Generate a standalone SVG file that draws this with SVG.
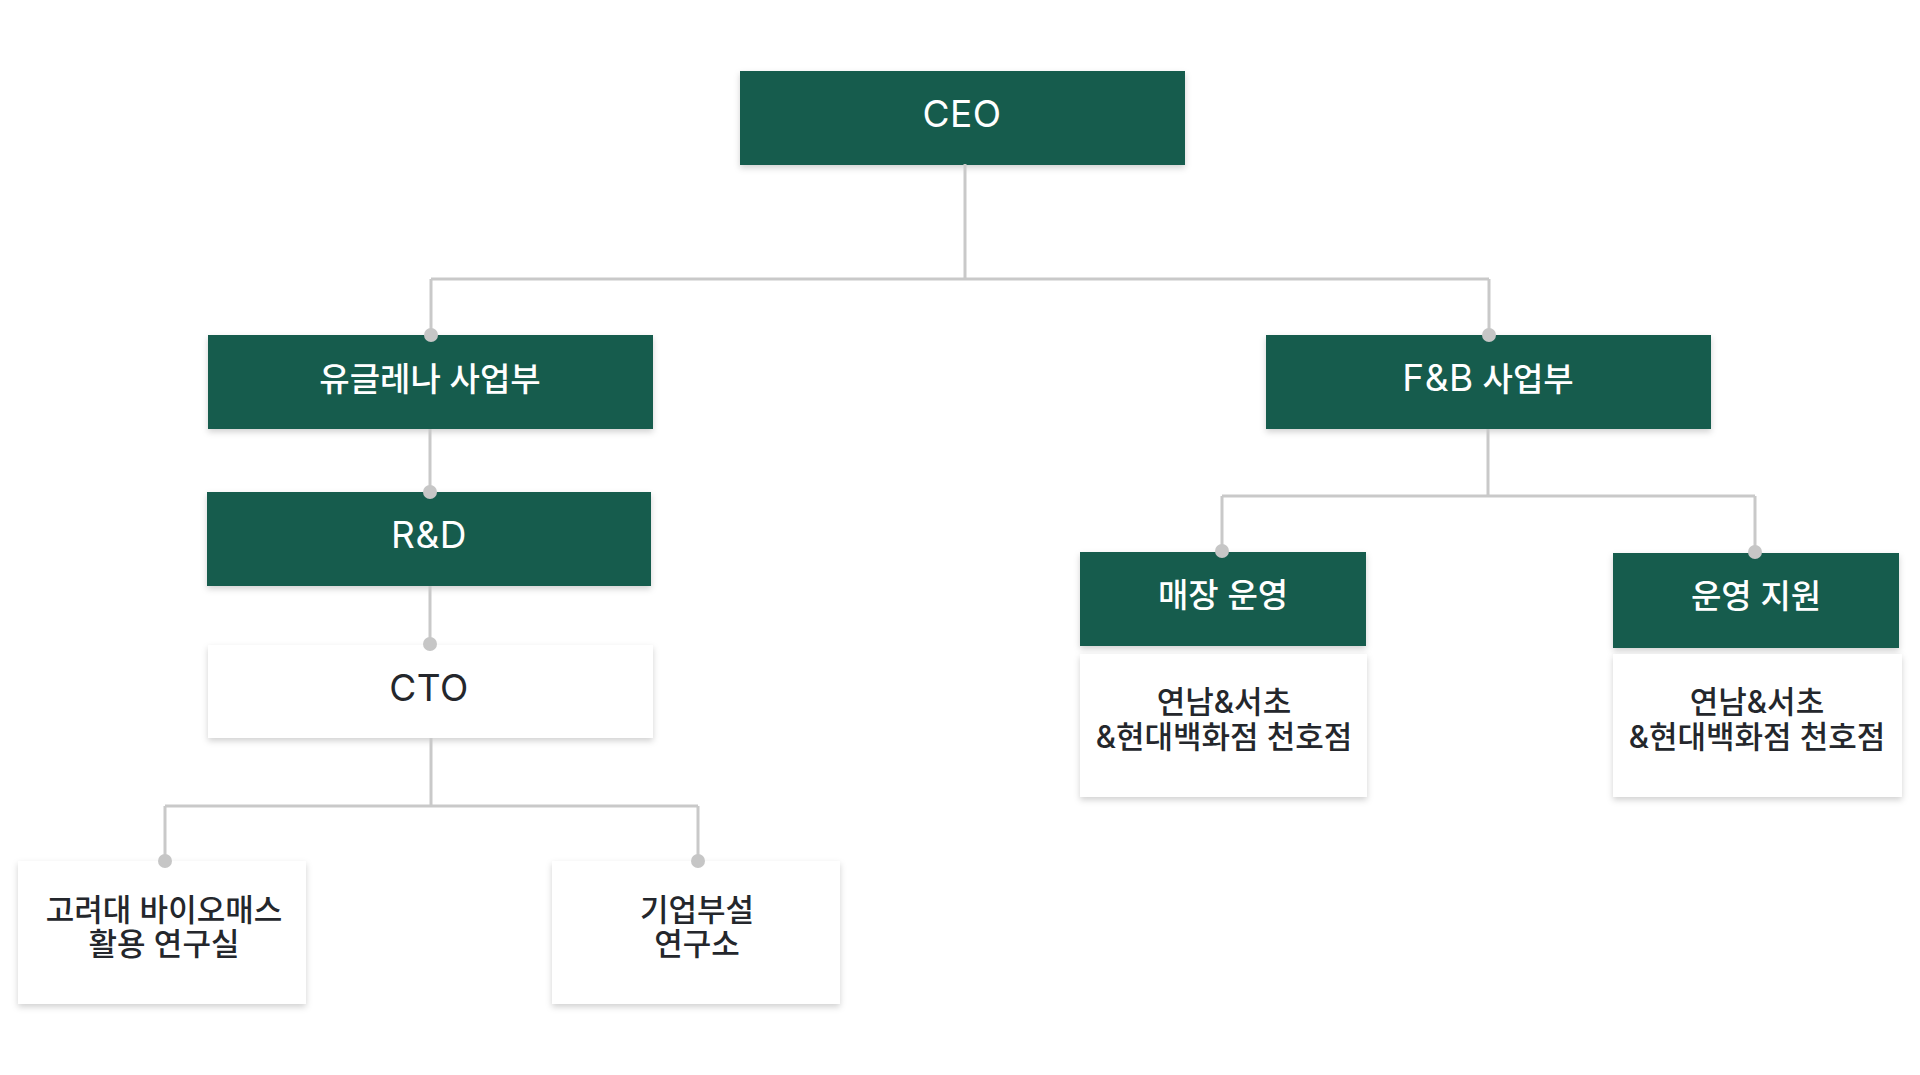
<svg xmlns="http://www.w3.org/2000/svg" width="1920" height="1075" viewBox="0 0 1920 1075">
  <defs>
    <filter id="sh" x="-10%" y="-20%" width="120%" height="150%">
      <feDropShadow dx="0" dy="3" stdDeviation="3" flood-color="#000" flood-opacity="0.18"/>
    </filter>
    <style>
      .g { fill: #145c4e; filter: url(#sh); }
      .w { fill: #ffffff; filter: url(#sh); }
      .tg { fill: #ffffff; font-family: Inter, "Noto Sans CJK KR", sans-serif; font-size: 33px; font-weight: 500; text-anchor: middle; }
      .td { fill: #24272c; font-family: Inter, "Noto Sans CJK KR", sans-serif; font-size: 33px; font-weight: 500; text-anchor: middle; }
      .ts { fill: #24272c; font-family: Inter, "Noto Sans CJK KR", sans-serif; font-size: 31px; font-weight: 500; text-anchor: middle; }
      .lat { font-size: 37px; font-weight: 400; letter-spacing: 0.5px; }
      .ln { fill: none; stroke: #c9c9c9; stroke-width: 3; }
      .dot { fill: #c6c6c6; }
    </style>
  </defs>
  <rect width="1920" height="1075" fill="#ffffff"/>

  <g id="ceo">
    <rect class="g" x="740" y="71" width="445" height="94"/>
    <text class="tg" x="962" y="127"><tspan class="lat">CEO</tspan></text>
  </g>
  <g id="euglena">
    <rect class="g" x="208" y="335" width="445" height="94"/>
    <text class="tg" x="430" y="391">유글레나 사업부</text>
  </g>
  <g id="fnb">
    <rect class="g" x="1266" y="335" width="445" height="94"/>
    <text class="tg" x="1488" y="391"><tspan class="lat">F&amp;B</tspan> 사업부</text>
  </g>
  <g id="rnd">
    <rect class="g" x="207" y="492" width="444" height="94"/>
    <text class="tg" x="429" y="548"><tspan class="lat">R&amp;D</tspan></text>
  </g>
  <g id="cto">
    <rect class="w" x="208" y="645" width="445" height="93"/>
    <text class="td" x="429" y="701"><tspan class="lat">CTO</tspan></text>
  </g>
  <g id="korea-univ">
    <rect class="w" x="18" y="861" width="288" height="143"/>
    <text class="ts" x="164" y="921">고려대 바이오매스</text>
    <text class="ts" x="164" y="955">활용 연구실</text>
  </g>
  <g id="corp-lab">
    <rect class="w" x="552" y="861" width="288" height="143"/>
    <text class="ts" x="697" y="921">기업부설</text>
    <text class="ts" x="697" y="955">연구소</text>
  </g>
  <g id="store-ops">
    <rect class="g" x="1080" y="552" width="286" height="94"/>
    <text class="tg" x="1223" y="607">매장 운영</text>
    <rect class="w" x="1080" y="654" width="287" height="143"/>
    <text class="ts" x="1224" y="713">연남&amp;서초</text>
    <text class="ts" x="1224" y="748">&amp;현대백화점 천호점</text>
  </g>
  <g id="ops-support">
    <rect class="g" x="1613" y="553" width="286" height="95"/>
    <text class="tg" x="1756" y="608">운영 지원</text>
    <rect class="w" x="1613" y="654" width="289" height="143"/>
    <text class="ts" x="1757" y="713">연남&amp;서초</text>
    <text class="ts" x="1757" y="748">&amp;현대백화점 천호점</text>
  </g>

  <g id="connectors">
    <path class="ln" d="M965 164 V279 M431 279 H1489 M431 279 V335 M1489 279 V335"/>
    <path class="ln" d="M430 429 V492"/>
    <path class="ln" d="M430 586 V644"/>
    <path class="ln" d="M431 738 V806 M165 806 H698 M165 806 V861 M698 806 V861"/>
    <path class="ln" d="M1488 429 V496 M1222 496 H1755 M1222 496 V551 M1755 496 V552"/>
    <circle class="dot" cx="431" cy="335" r="7"/>
    <circle class="dot" cx="1489" cy="335" r="7"/>
    <circle class="dot" cx="430" cy="492" r="7"/>
    <circle class="dot" cx="430" cy="644" r="7"/>
    <circle class="dot" cx="165" cy="861" r="7"/>
    <circle class="dot" cx="698" cy="861" r="7"/>
    <circle class="dot" cx="1222" cy="551" r="7"/>
    <circle class="dot" cx="1755" cy="552" r="7"/>
  </g>
</svg>
